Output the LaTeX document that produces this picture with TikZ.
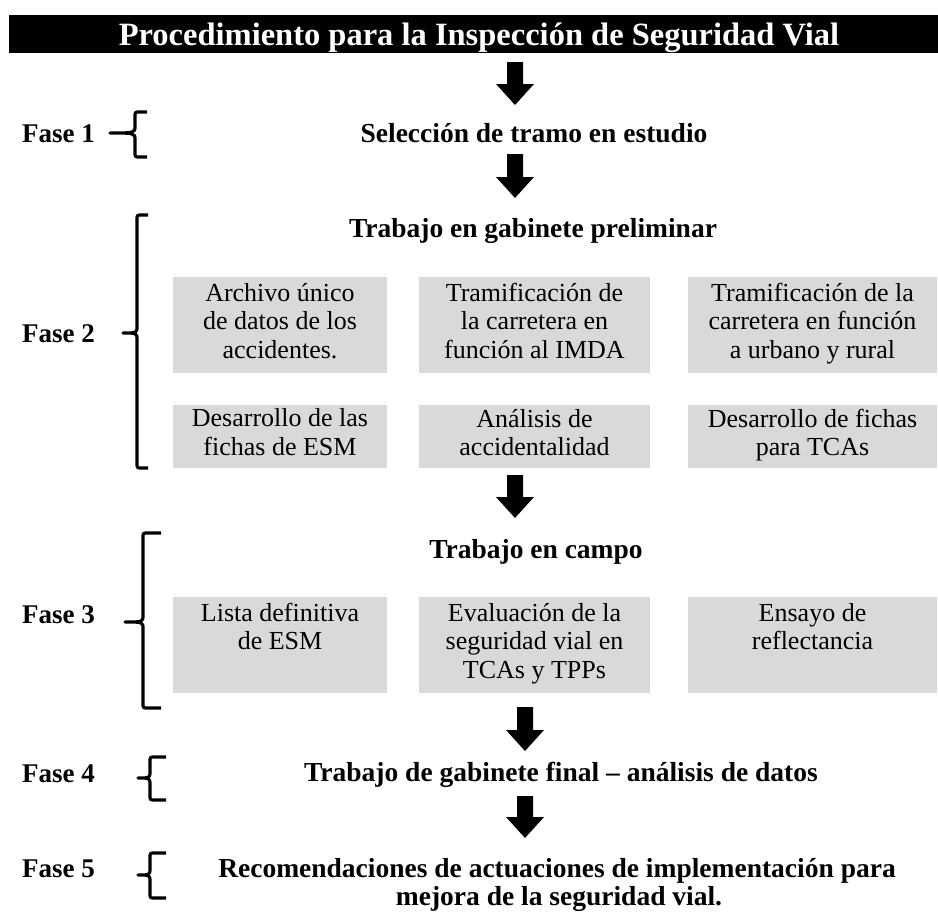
\documentclass[tikz,border=0pt]{standalone}
\usepackage{fontspec}
\setmainfont{Liberation Serif}
\usetikzlibrary{calc}
\definecolor{boxgray}{HTML}{D9D9D9}
\newcommand\blockarrow[2]{\fill[black] let \p1=(#1), \p2=(#2) in
  (\x1-8pt,\y1) -- (\x1+8pt,\y1) -- (\x1+8pt,\y2+21pt) -- (\x1+19pt,\y2+21pt)
  -- (\x1,\y2) -- (\x1-19pt,\y2+21pt) -- (\x1-8pt,\y2+21pt) -- cycle;}
% #1 spine x, #2 top y, #3 mid y, #4 bottom y, #5 tick x, #6 right x
\newcommand\phbrace[6]{\draw[bracestyle] (#6,#2) -- (#1+5,#2) .. controls (#1,#2) .. (#1,#2+5)
  -- (#1,#3-7) .. controls (#1,#3) .. (#5,#3) .. controls (#1,#3) .. (#1,#3+7)
  -- (#1,#4-5) .. controls (#1,#4) .. (#1+5,#4) -- (#6,#4);}
\begin{document}
\begin{tikzpicture}[x=1pt,y=-1pt,
  titlebar/.style={fill=black,draw=none,inner sep=0pt,anchor=north west},
  titletext/.style={text=white,inner sep=0pt,anchor=base,font=\fontsize{32.5}{36}\selectfont\bfseries},
  heading/.style={inner sep=0pt,anchor=base,font=\fontsize{27.5}{30}\selectfont\bfseries},
  faselabel/.style={inner sep=0pt,anchor=base west,font=\fontsize{27}{30}\selectfont\bfseries},
  graybox/.style={fill=boxgray,draw=none,inner sep=0pt,align=center,
    font=\fontsize{26}{28.5}\selectfont,
    execute at begin node=\strut,execute at end node=\strut},
  bracestyle/.style={line width=3.2pt,line cap=butt,line join=round},
]
\useasboundingbox (0,0) rectangle (938,913);

% title
\node[titlebar,minimum width=929pt,minimum height=38pt] (bar) at (9,15) {};
\node[titletext] (title) at (479,45) {Procedimiento para la Inspección de Seguridad Vial};

% Fase 1
\node[faselabel] (f1) at (22,142) {Fase 1};
\node[heading] (sel) at (534,142) {Selección de tramo en estudio};

% Fase 2
\node[faselabel] (f2) at (22,342) {Fase 2};
\node[heading] (gab) at (533,237) {Trabajo en gabinete preliminar};
\node[graybox,minimum width=214pt,minimum height=96pt] (b11) at (280,325) {Archivo único\\de datos de los\\accidentes.};
\node[graybox,minimum width=231pt,minimum height=96pt] (b12) at (534.5,325) {Tramificación de\\la carretera en\\función al IMDA};
\node[graybox,minimum width=249pt,minimum height=96pt] (b13) at (812.5,325) {Tramificación de la\\carretera en función\\a urbano y rural};
\node[graybox,minimum width=214pt,minimum height=63pt] (b21) at (280,436.5) {Desarrollo de las\\fichas de ESM};
\node[graybox,minimum width=231pt,minimum height=63pt] (b22) at (534.5,436.5) {Análisis de\\accidentalidad};
\node[graybox,minimum width=249pt,minimum height=63pt] (b23) at (812.5,436.5) {Desarrollo de fichas\\para TCAs};

% Fase 3
\node[faselabel] (f3) at (22,623) {Fase 3};
\node[heading] (campo) at (536,558) {Trabajo en campo};
\node[graybox,minimum width=214pt,minimum height=96pt] (c1) at (280,645) {Lista definitiva\\de ESM\\~};
\node[graybox,minimum width=231pt,minimum height=96pt] (c2) at (534.5,645) {Evaluación de la\\seguridad vial en\\TCAs y TPPs};
\node[graybox,minimum width=249pt,minimum height=96pt] (c3) at (812.5,645) {Ensayo de\\reflectancia\\~};

% Fase 4
\node[faselabel] (f4) at (22,782) {Fase 4};
\node[heading] (final) at (561,781) {Trabajo de gabinete final -- análisis de datos};

% Fase 5
\node[faselabel] (f5) at (22,877) {Fase 5};
\node[heading] (rec1) at (557,877) {Recomendaciones de actuaciones de implementación para};
\node[heading] (rec2) at (559,905) {mejora de la seguridad vial.};

% braces
\phbrace{135}{112}{133}{157}{110}{147}
\phbrace{137}{215}{333}{468}{123}{148}
\phbrace{143}{533}{622}{708}{125}{161}
\phbrace{150}{757}{778}{800}{138}{166}
\phbrace{150}{853}{875}{898}{138}{166}

% arrows
\coordinate (a1s) at (515,62);  \coordinate (a1e) at (515,105);
\coordinate (a2s) at (515,154); \coordinate (a2e) at (515,198);
\coordinate (a3s) at (515,475); \coordinate (a3e) at (515,518);
\coordinate (a4s) at (525,707); \coordinate (a4e) at (525,751);
\coordinate (a5s) at (525,796); \coordinate (a5e) at (525,838);
\blockarrow{a1s}{a1e}
\blockarrow{a2s}{a2e}
\blockarrow{a3s}{a3e}
\blockarrow{a4s}{a4e}
\blockarrow{a5s}{a5e}
\end{tikzpicture}
\end{document}
